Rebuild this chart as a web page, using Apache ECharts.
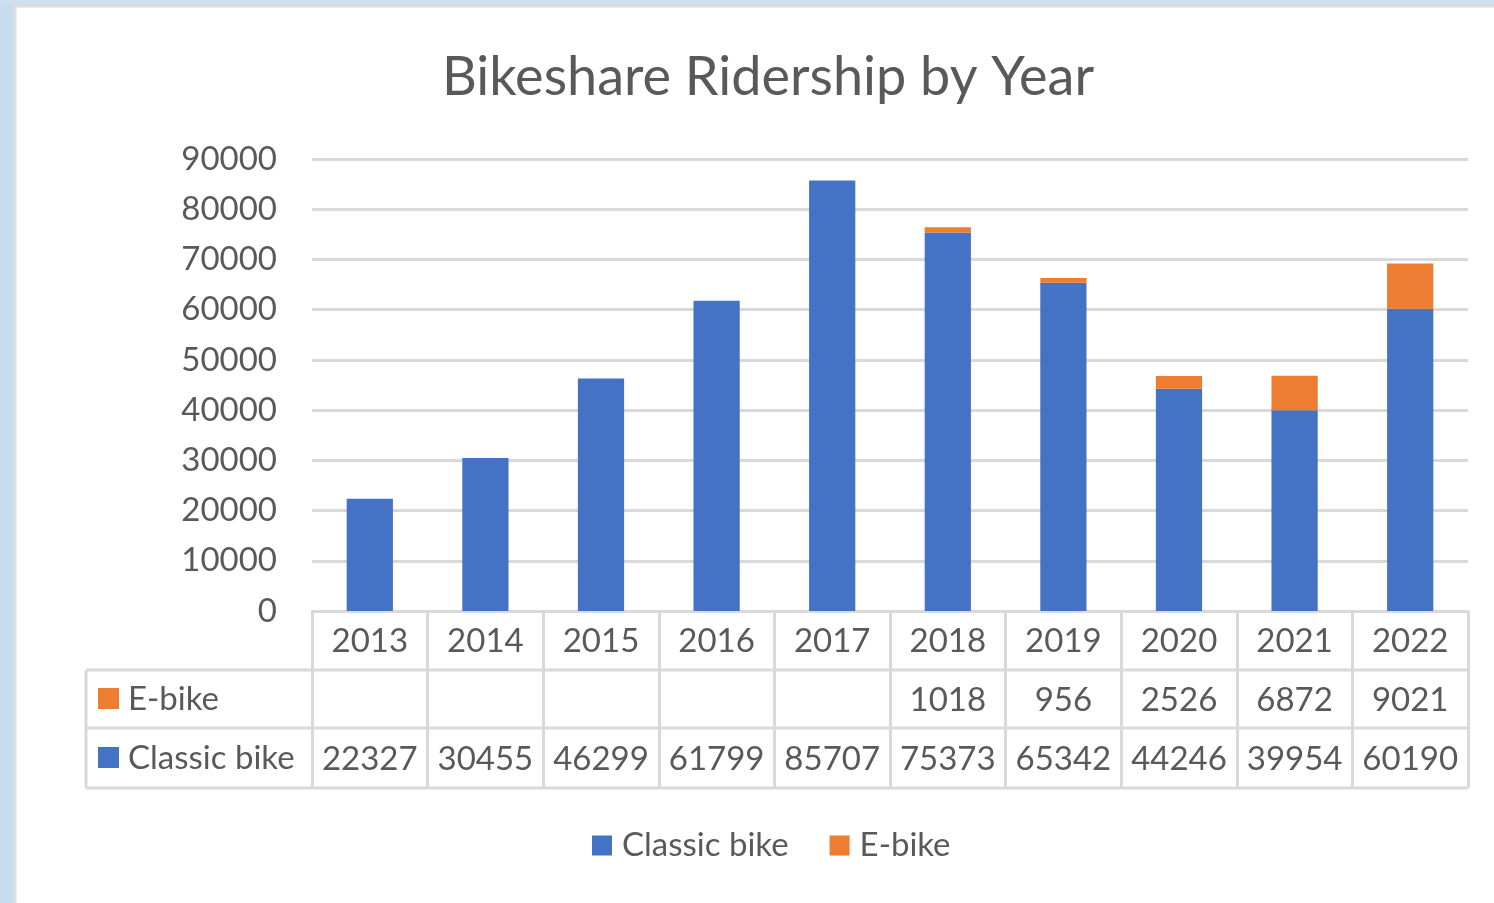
<!DOCTYPE html>
<html>
<head>
<meta charset="utf-8">
<script src="https://cdn.jsdelivr.net/npm/echarts@6/dist/echarts.min.js"></script>
<style>
  html, body { margin: 0; padding: 0; background: #fff; }
  #chart { width: 1494px; height: 903px; }
</style>
</head>
<body>
<div id="chart"></div>
<script>
// data
const years = ["2013", "2014", "2015", "2016", "2017", "2018", "2019", "2020", "2021", "2022"];
const classicBike = [22327, 30455, 46299, 61799, 85707, 75373, 65342, 44246, 39954, 60190];
const eBike = [null, null, null, null, null, 1018, 956, 2526, 6872, 9021];
const seriesNames = ["Classic bike", "E-bike"];
const yTicks = { min: 0, max: 90000, step: 10000 };

const BLUE = "#4472C4";
const ORANGE = "#ED7D31";
const TEXT = "#595959";
const LINE = "#d9d9d9";
const FONT = "Lato";

// plot area (px)
const gLeft = 312, gRight = 1468, gTop = 159, gBottom = 611;
const rowH = [611, 670, 728, 788];
const tableLeft = 86;

let chart = echarts.init(document.getElementById("chart"));

function cell(v) {
  return v == null ? " " : String(v);
}

let option = {
  backgroundColor: "#fff",
  animation: false,
  title: {
    text: "Bikeshare Ridership by Year",
    left: 763,
    top: 46,
    textAlign: "center",
    textStyle: { fontFamily: FONT, fontSize: 54, fontWeight: "normal", color: TEXT }
  },
  legend: {
    data: seriesNames,
    left: 592,
    top: 829,
    padding: 0,
    itemWidth: 20,
    itemHeight: 20,
    itemGap: 41,
    icon: "rect",
    textStyle: { fontFamily: FONT, fontSize: 33, color: TEXT, padding: [0, 0, 0, 5] }
  },
  grid: {
    left: gLeft,
    right: 1494 - gRight,
    top: gTop,
    bottom: 903 - gBottom
  },
  xAxis: {
    type: "category",
    data: years,
    axisLine: { show: true, lineStyle: { color: LINE, width: 3 } },
    axisTick: {
      show: true,
      interval: 0,
      length: rowH[3] - rowH[0],
      lineStyle: { color: LINE, width: 3 }
    },
    axisLabel: {
      interval: 0,
      margin: 1,
      formatter: function (val, idx) {
        return "{a|" + val + "}\n{a|" + cell(eBike[idx]) + "}\n{a|" + cell(classicBike[idx]) + "}";
      },
      rich: {
        a: { fontFamily: FONT, fontSize: 33, color: TEXT, lineHeight: 59, align: "center" }
      }
    }
  },
  yAxis: {
    type: "value",
    min: yTicks.min,
    max: yTicks.max,
    interval: yTicks.step,
    axisLine: { show: false },
    axisTick: { show: false },
    axisLabel: {
      margin: 35,
      fontFamily: FONT,
      fontSize: 33,
      color: TEXT,
      formatter: function (v) { return String(v); }
    },
    splitLine: { lineStyle: { color: LINE, width: 3 } }
  },
  series: [
    {
      name: seriesNames[0],
      type: "bar",
      stack: "total",
      barWidth: "40%",
      itemStyle: { color: BLUE },
      data: classicBike
    },
    {
      name: seriesNames[1],
      type: "bar",
      stack: "total",
      barWidth: "40%",
      itemStyle: { color: ORANGE },
      data: eBike
    }
  ],
  graphic: [
    // window frame
    { type: "rect", shape: { x: 0, y: 0, width: 14, height: 903 }, style: { fill: "#c8dcef" }, z: 100 },
    { type: "rect", shape: { x: 0, y: 0, width: 1494, height: 5 }, style: { fill: "#cfe0f1" }, z: 100 },
    { type: "line", shape: { x1: 15, y1: 5, x2: 15, y2: 903 }, style: { stroke: "#dedede", lineWidth: 3 }, z: 100 },
    { type: "line", shape: { x1: 14, y1: 6, x2: 1494, y2: 6 }, style: { stroke: "#dedede", lineWidth: 3 }, z: 100 },
    // data table rules
    { type: "line", shape: { x1: tableLeft, y1: rowH[1], x2: gRight, y2: rowH[1] }, style: { stroke: LINE, lineWidth: 3 } },
    { type: "line", shape: { x1: tableLeft, y1: rowH[2], x2: gRight, y2: rowH[2] }, style: { stroke: LINE, lineWidth: 3 } },
    { type: "line", shape: { x1: tableLeft, y1: rowH[3], x2: gRight, y2: rowH[3] }, style: { stroke: LINE, lineWidth: 3 } },
    { type: "line", shape: { x1: tableLeft, y1: rowH[1], x2: tableLeft, y2: rowH[3] }, style: { stroke: LINE, lineWidth: 3 } },
    // row headers
    { type: "rect", shape: { x: 98, y: 688, width: 21, height: 21 }, style: { fill: ORANGE } },
    { type: "text", x: 128, y: (rowH[1] + rowH[2]) / 2, style: { text: seriesNames[1], fontFamily: FONT, fontSize: 33, fill: TEXT, verticalAlign: "middle" } },
    { type: "rect", shape: { x: 98, y: 747, width: 21, height: 21 }, style: { fill: BLUE } },
    { type: "text", x: 128, y: (rowH[2] + rowH[3]) / 2, style: { text: seriesNames[0], fontFamily: FONT, fontSize: 33, fill: TEXT, verticalAlign: "middle" } }
  ]
};

chart.setOption(option);
</script>
</body>
</html>
